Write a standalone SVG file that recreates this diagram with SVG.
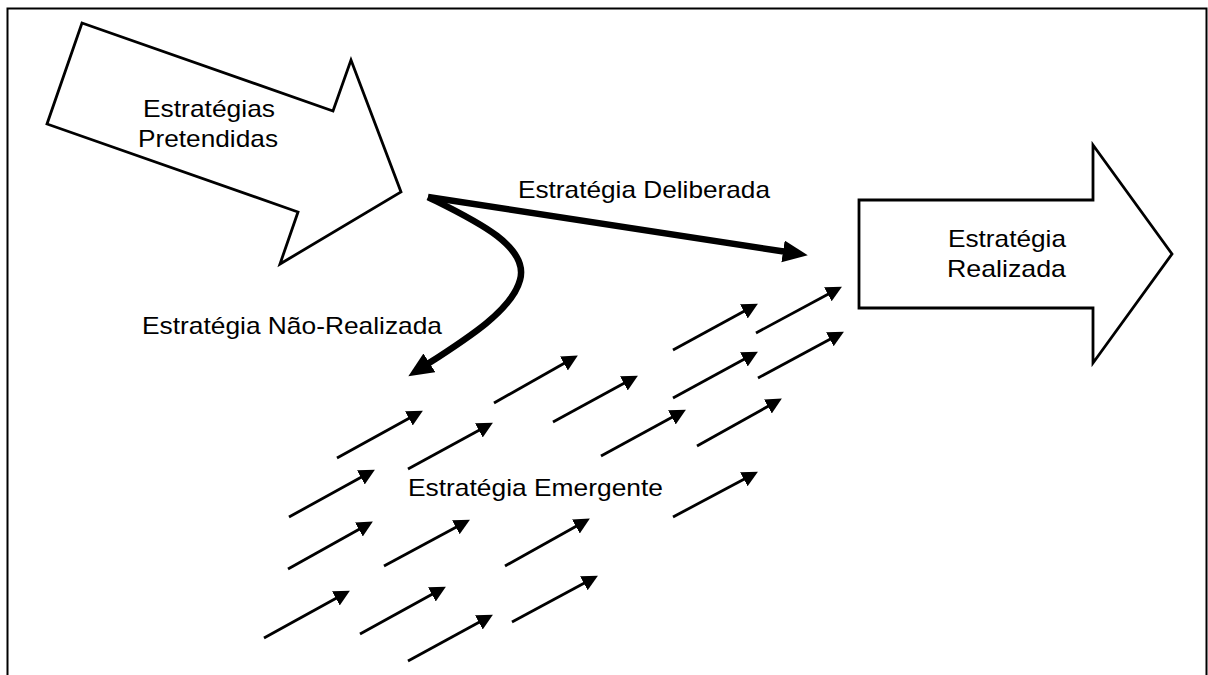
<svg xmlns="http://www.w3.org/2000/svg" width="1208" height="675" viewBox="0 0 1208 675">
<style>
  .frame { fill: none; stroke: #000; stroke-width: 2; }
  .big { fill: #fff; stroke: #000; stroke-width: 2.8; stroke-linejoin: miter; }
  .lbl { font-family: "Liberation Sans", Arial, sans-serif; font-size: 24px; fill: #000; }
  .thick { fill: none; stroke: #000; stroke-width: 6.5; stroke-linecap: butt; }
  .thin { fill: none; stroke: #000; stroke-width: 2.8; marker-end: url(#ah); }
</style>
<defs>
  <marker id="ah" markerUnits="userSpaceOnUse" markerWidth="18" markerHeight="18" refX="7" refY="8" orient="auto">
    <path d="M0,0 L16,8 L0,16 z" fill="#000"/>
  </marker>
  <marker id="ahb" markerUnits="userSpaceOnUse" markerWidth="28" markerHeight="24" refX="4" refY="11" orient="auto">
    <path d="M0,0 L25,11 L0,22 z" fill="#000"/>
  </marker>
</defs>
<rect width="1208" height="675" fill="#fff"/>
<path class="frame" d="M7.5,675 V8.5 H1206.5 V675"/>

<g id="node-pretendidas">
  <polygon class="big" points="82,23 333,111 351,60 401,192 280,264 298,212 47,124"/>
  <text class="lbl" x="143" y="117" textLength="132" lengthAdjust="spacingAndGlyphs">Estratégias</text>
  <text class="lbl" x="138" y="147" textLength="140" lengthAdjust="spacingAndGlyphs">Pretendidas</text>
</g>

<g id="node-realizada">
  <polygon class="big" points="859,200 1093,200 1093,145 1172,254 1093,363 1093,308 859,308"/>
  <text class="lbl" x="948" y="247" textLength="118" lengthAdjust="spacingAndGlyphs">Estratégia</text>
  <text class="lbl" x="947" y="277" textLength="119" lengthAdjust="spacingAndGlyphs">Realizada</text>
</g>

<g id="connectors">
  <path class="thick" d="M428,197 L787,252" marker-end="url(#ahb)"/>
  <path class="thick" d="M428,197 C470,218 530,245 520,280 C512,310 468,338 426,365" marker-end="url(#ahb)"/>
  <g id="emergent-arrows">
    <line class="thin" x1="337" y1="458" x2="415" y2="415"/>
    <line class="thin" x1="408" y1="469" x2="485" y2="427"/>
    <line class="thin" x1="494" y1="403" x2="570" y2="360"/>
    <line class="thin" x1="553" y1="422" x2="630" y2="380"/>
    <line class="thin" x1="673" y1="350" x2="750" y2="308"/>
    <line class="thin" x1="756" y1="333" x2="834" y2="291"/>
    <line class="thin" x1="673" y1="398" x2="750" y2="356"/>
    <line class="thin" x1="758" y1="378" x2="836" y2="336"/>
    <line class="thin" x1="601" y1="456" x2="678" y2="414"/>
    <line class="thin" x1="697" y1="446" x2="774" y2="403"/>
    <line class="thin" x1="289" y1="517" x2="367" y2="474"/>
    <line class="thin" x1="288" y1="569" x2="365" y2="526"/>
    <line class="thin" x1="384" y1="566" x2="462" y2="524"/>
    <line class="thin" x1="505" y1="566" x2="582" y2="523"/>
    <line class="thin" x1="673" y1="517" x2="750" y2="476"/>
    <line class="thin" x1="264" y1="638" x2="342" y2="595"/>
    <line class="thin" x1="360" y1="634" x2="438" y2="591"/>
    <line class="thin" x1="512" y1="622" x2="590" y2="580"/>
    <line class="thin" x1="408" y1="661" x2="485" y2="619"/>
  </g>
</g>

<g id="labels">
  <text class="lbl" x="518" y="198" textLength="252" lengthAdjust="spacingAndGlyphs">Estratégia Deliberada</text>
  <text class="lbl" x="142" y="334" textLength="300" lengthAdjust="spacingAndGlyphs">Estratégia Não-Realizada</text>
  <text class="lbl" x="408" y="496" textLength="255" lengthAdjust="spacingAndGlyphs">Estratégia Emergente</text>
</g>
</svg>
